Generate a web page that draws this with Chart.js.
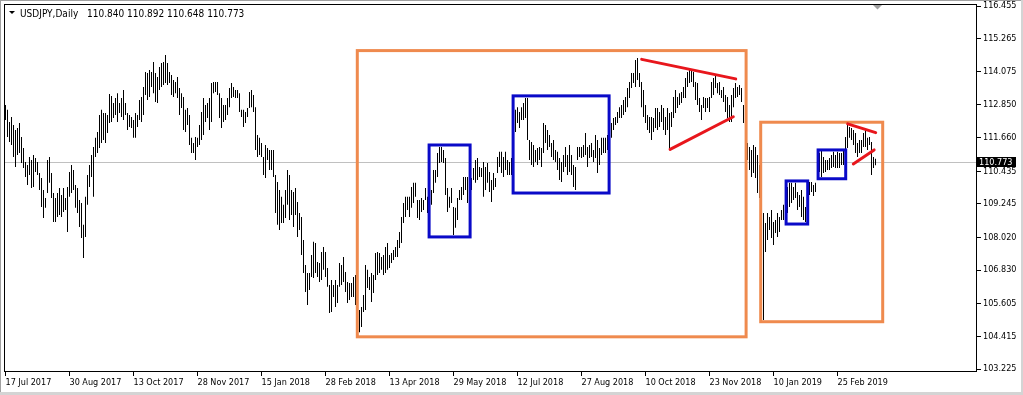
<!DOCTYPE html>
<html>
<head>
<meta charset="utf-8">
<script src="https://cdn.jsdelivr.net/npm/chart.js@4.4.1/dist/chart.umd.min.js"></script>
<style>
html, body { margin: 0; padding: 0; background: #fff; overflow: hidden; }
canvas { display: block; }
</style>
</head>
<body>
<canvas id="mycanvas" width="1023" height="395"></canvas>
<script>
var symbolName = 'USDJPY,Daily';
var lastOHLC = [110.840, 110.892, 110.648, 110.773];

var dateLabels = ['17 Jul 2017', '30 Aug 2017', '13 Oct 2017', '28 Nov 2017', '15 Jan 2018', '28 Feb 2018', '13 Apr 2018',
	'29 May 2018', '12 Jul 2018', '27 Aug 2018', '10 Oct 2018', '23 Nov 2018', '10 Jan 2019', '25 Feb 2019'];
var dateBars = [0, 32, 64, 96, 128, 160, 192, 224, 256, 288, 320, 352, 384, 416];
var priceTicks = [116.455, 115.265, 114.075, 112.850, 111.660, 110.435, 109.245, 108.020, 106.830, 105.605, 104.415, 103.225];

// daily highs, one per bar, 17 Jul 2017 onwards
var highs = [
	112.85,112.67,112.23,112.41,112.12,111.94,112.01,112.19,111.68,111.28,
	110.77,110.66,110.95,110.84,111.03,110.92,110.77,110.37,110.19,109.75,
	109.46,110.84,110.95,110.37,109.64,109.46,109.64,109.82,109.57,109.82,
	109.46,109.86,110.41,110.66,110.48,109.93,109.82,109.39,109.28,108.48,
	109.50,110.30,110.66,111.03,111.32,111.65,111.86,112.48,112.67,112.56,
	112.56,112.48,113.25,113.18,112.92,113.10,113.28,112.92,113.10,113.39,
	112.92,112.56,112.48,112.41,112.30,112.56,112.48,113.03,113.14,113.50,
	114.05,114.01,114.12,114.05,114.41,114.01,113.87,114.23,114.38,114.41,
	114.67,114.38,114.05,113.94,113.76,113.69,113.87,113.47,113.28,113.14,
	112.67,112.74,112.48,111.65,111.46,111.68,111.65,112.12,112.59,113.10,
	112.85,112.92,113.10,113.65,113.69,113.69,113.69,113.28,113.10,112.85,
	112.85,113.10,113.47,113.65,113.50,113.39,113.39,113.28,112.67,112.67,
	112.59,112.74,113.32,113.39,113.21,112.77,111.75,111.65,111.46,110.95,
	111.39,111.28,111.21,111.21,111.21,110.30,110.04,109.75,109.50,109.21,
	109.75,110.48,110.30,109.75,109.68,109.82,109.31,108.91,108.77,107.93,
	107.02,106.73,106.73,107.38,107.86,107.82,107.13,107.09,107.49,107.67,
	107.49,106.91,106.29,106.47,106.29,106.47,106.29,107.09,107.02,107.31,
	106.76,106.40,106.36,106.36,106.58,106.65,106.29,105.38,105.49,105.92,
	107.02,106.84,106.58,106.73,106.65,107.45,107.49,107.45,107.31,107.38,
	107.67,107.82,107.38,107.45,107.56,107.67,107.93,108.22,108.77,109.28,
	109.50,109.50,109.50,109.86,110.01,110.01,109.39,109.39,109.46,109.39,
	109.82,109.50,110.22,109.75,110.48,110.48,111.10,111.32,111.32,111.21,
	110.92,109.82,109.50,109.82,109.13,109.10,109.46,109.75,109.86,110.22,
	110.22,110.22,109.93,110.19,110.55,110.84,110.92,110.59,110.55,110.77,
	110.59,110.73,110.41,110.11,110.37,110.19,110.95,111.14,111.14,110.95,
	111.14,110.84,110.77,110.92,112.19,112.67,112.77,112.59,112.77,112.92,
	113.10,113.10,111.57,111.50,111.39,111.21,111.28,111.32,111.28,112.19,
	112.12,111.94,111.75,111.46,111.57,111.21,111.14,110.92,110.77,111.03,
	111.32,111.03,111.39,111.03,110.66,110.59,111.32,111.32,111.32,111.39,
	111.83,111.32,111.39,111.46,111.21,111.75,111.57,111.28,111.65,111.65,
	111.65,111.75,112.01,112.19,112.37,112.41,112.59,112.77,112.85,113.03,
	113.14,113.47,113.69,114.01,114.01,114.49,114.56,114.01,113.69,113.39,
	112.85,112.48,112.41,112.41,112.37,112.74,112.74,112.59,112.85,112.74,
	112.41,112.74,112.56,112.59,113.14,113.39,113.14,113.28,113.32,113.50,
	113.83,114.05,114.20,114.12,114.05,113.69,113.65,113.10,112.85,113.14,
	113.10,113.10,113.14,113.69,113.83,113.94,113.65,113.69,113.39,113.50,
	113.21,113.14,112.85,113.21,113.47,113.65,113.50,113.58,113.47,112.85,
	112.41,111.46,111.32,111.21,111.39,111.32,111.03,110.66,109.93,108.91,
	108.55,108.91,108.77,109.02,108.58,108.66,108.91,108.77,109.02,109.21,
	109.39,109.86,110.01,110.01,109.86,110.01,109.68,109.57,109.75,109.50,
	109.13,109.75,110.04,110.04,109.93,110.01,111.21,111.10,111.21,110.95,
	110.84,110.84,110.92,111.03,111.14,111.03,111.14,111.10,111.10,111.21,
	111.68,112.12,112.05,112.01,111.94,111.83,111.46,111.57,111.57,111.83,
	111.94,111.65,111.68,111.50,110.95,110.892
];

var lows = [
	112.30,111.68,111.50,111.39,110.95,110.59,111.03,111.10,110.73,110.55,
	110.22,109.93,110.30,109.82,109.86,110.41,110.30,109.75,109.13,108.73,
	109.10,109.64,110.01,109.46,108.58,108.58,108.77,108.84,108.77,108.95,
	109.02,108.22,109.50,109.64,109.75,109.10,108.91,108.40,108.00,107.27,
	108.04,109.21,109.86,110.22,109.50,110.95,111.10,111.28,111.46,111.57,
	111.46,111.83,112.19,112.23,112.37,112.48,112.23,112.56,112.41,112.30,
	112.48,111.94,112.05,112.01,111.65,111.65,112.05,112.30,112.23,112.48,
	113.21,113.03,113.14,113.50,113.28,112.96,112.92,113.39,113.50,113.58,
	113.65,113.58,113.65,113.21,113.14,113.28,113.10,112.48,112.74,111.94,
	111.86,112.12,111.39,111.10,111.10,110.84,111.32,111.39,111.57,111.75,
	112.23,112.37,111.94,112.23,113.28,113.32,113.21,112.37,112.01,112.23,
	112.30,112.48,112.77,113.10,113.14,113.10,113.10,112.59,112.41,112.05,
	112.19,112.41,112.74,112.77,112.59,111.21,110.95,111.03,110.95,110.30,
	110.19,110.84,110.48,110.48,110.22,108.91,108.48,108.29,108.55,108.55,
	108.73,109.21,108.66,108.84,108.40,108.84,108.04,108.29,107.38,106.73,
	106.03,105.56,106.11,106.58,106.54,106.73,106.58,106.40,106.47,106.84,
	106.58,106.22,105.27,105.30,105.85,105.49,105.63,106.22,106.29,106.40,
	106.03,105.63,105.74,105.85,105.85,105.56,105.56,104.57,104.76,105.30,
	105.38,106.18,106.11,105.67,106.00,106.47,106.65,106.73,106.84,106.65,
	106.73,106.84,106.91,107.09,107.20,107.31,107.31,107.64,107.82,108.55,
	108.77,109.02,108.77,109.10,109.28,109.50,108.73,108.66,108.95,109.02,
	109.39,108.91,109.39,109.21,109.64,110.01,110.22,110.73,110.77,110.73,
	109.57,108.95,109.10,109.28,108.11,108.37,108.66,109.39,109.39,109.57,
	109.75,109.28,109.50,109.75,110.11,110.01,110.11,110.22,110.22,109.50,
	109.75,110.01,109.68,109.31,109.75,109.86,110.37,110.59,110.37,110.22,
	110.48,110.30,110.30,110.30,111.21,111.86,112.19,112.01,112.30,112.30,
	112.37,111.57,110.84,110.66,110.59,110.77,110.66,110.84,110.59,111.10,
	111.46,111.21,111.32,110.95,110.84,110.77,110.48,110.11,110.04,110.41,
	110.59,110.30,110.41,110.30,109.86,109.75,110.84,110.95,110.92,110.95,
	111.03,110.59,110.92,110.95,110.77,110.92,110.37,110.66,111.03,111.10,
	111.10,111.21,111.39,111.65,111.94,112.12,112.19,112.37,112.37,112.48,
	112.59,112.77,113.10,113.47,113.65,113.50,113.76,113.50,112.77,112.41,
	112.19,111.94,111.83,111.57,111.86,112.01,111.94,112.05,112.23,111.94,
	111.75,111.94,111.21,112.05,112.37,112.56,112.74,112.85,112.92,113.10,
	113.10,113.50,113.65,113.69,113.50,113.03,112.85,112.59,112.30,112.74,
	112.59,112.74,112.59,113.10,113.21,113.47,113.28,113.21,113.10,112.96,
	112.59,112.37,112.23,112.23,112.77,113.10,113.14,113.21,112.96,112.19,
	110.77,110.84,110.48,110.22,110.37,110.19,109.64,109.46,109.21,105.01,
	107.49,107.93,108.29,108.00,107.75,108.18,108.04,108.22,108.66,108.66,
	108.84,108.91,109.13,109.28,109.39,109.46,109.02,109.13,108.77,108.66,
	108.58,109.21,109.57,109.68,109.53,109.68,110.11,110.41,110.22,110.37,
	110.41,110.48,110.48,110.55,110.59,110.55,110.55,110.55,110.66,110.66,
	111.14,111.28,111.65,111.57,111.39,111.10,110.95,111.10,111.10,111.32,
	111.32,111.21,111.39,110.30,110.55,110.648
];

// drawn objects: [bar from, bar to, price top, price bottom]
var orangeBoxes = [[175.9, 370.3, 114.83, 104.40], [377.6, 438.6, 112.22, 104.95]];
var blueBoxes = [[211.8, 232.3, 111.39, 108.04], [253.8, 301.8, 113.18, 109.64],
	[390.3, 401.1, 110.08, 108.51], [406.3, 420.1, 111.21, 110.16]];
// trend lines: [bar, price, bar, price]
var redLines = [[318.1, 114.51, 365.1, 113.80], [332.3, 111.23, 363.9, 112.42],
	[421.1, 112.16, 435.1, 111.84], [423.9, 110.70, 434.3, 111.21]];

var fontFamily = '"DejaVu Sans Condensed", "Liberation Sans", Arial, sans-serif';

var bars = [];
for (var i in highs) {
	bars.push({x: Number(i), y: [lows[i], highs[i]]});
}

var mt4Decor = {
	id: 'mt4Decor',
	beforeDraw: function(chart) {
		var c = chart.ctx, a = chart.chartArea;
		var py = Math.round(chart.scales.y.getPixelForValue(lastOHLC[3])) + 0.5;
		c.save();
		c.fillStyle = '#ffffff';
		c.fillRect(0, 0, chart.width, chart.height);
		c.strokeStyle = '#c0c0c0';
		c.lineWidth = 1;
		c.beginPath();
		c.moveTo(a.left, py);
		c.lineTo(a.right, py);
		c.stroke();
		c.restore();
	},
	afterDatasetsDraw: function(chart) {
		var c = chart.ctx, xs = chart.scales.x, ys = chart.scales.y;
		c.save();
		c.lineWidth = 3;
		c.lineJoin = 'miter';
		c.strokeStyle = '#ef8a4e';
		orangeBoxes.forEach(function(b) {
			var x1 = xs.getPixelForValue(b[0]), x2 = xs.getPixelForValue(b[1]);
			var y1 = ys.getPixelForValue(b[2]), y2 = ys.getPixelForValue(b[3]);
			c.strokeRect(x1, y1, x2 - x1, y2 - y1);
		});
		c.strokeStyle = '#0a0ac8';
		blueBoxes.forEach(function(b) {
			var x1 = xs.getPixelForValue(b[0]), x2 = xs.getPixelForValue(b[1]);
			var y1 = ys.getPixelForValue(b[2]), y2 = ys.getPixelForValue(b[3]);
			c.strokeRect(x1, y1, x2 - x1, y2 - y1);
		});
		c.strokeStyle = '#e8161c';
		c.lineCap = 'round';
		redLines.forEach(function(l) {
			c.beginPath();
			c.moveTo(xs.getPixelForValue(l[0]), ys.getPixelForValue(l[1]));
			c.lineTo(xs.getPixelForValue(l[2]), ys.getPixelForValue(l[3]));
			c.stroke();
		});
		c.restore();
	},
	afterDraw: function(chart) {
		var c = chart.ctx, a = chart.chartArea, xs = chart.scales.x, ys = chart.scales.y;
		c.save();
		// window edges
		c.fillStyle = '#a0a0a0';
		c.fillRect(0, 0, chart.width, 1);
		c.fillRect(0, 0, 1, chart.height);
		c.fillStyle = '#d4d4d4';
		c.fillRect(0, chart.height - 3, chart.width, 3);
		c.fillRect(chart.width - 2, 0, 2, chart.height);
		// chart frame
		c.strokeStyle = '#000';
		c.lineWidth = 1;
		c.strokeRect(a.left + 0.5, a.top + 0.5, a.right - a.left - 1, a.bottom - a.top - 1);
		// shift marker
		var sx = xs.getPixelForValue(highs.length);
		c.fillStyle = '#a0a0a0';
		c.beginPath();
		c.moveTo(sx - 4.5, a.top + 1);
		c.lineTo(sx + 4.5, a.top + 1);
		c.lineTo(sx, a.top + 5.5);
		c.closePath();
		c.fill();
		// header
		c.fillStyle = '#000';
		c.beginPath();
		c.moveTo(9, 11);
		c.lineTo(15, 11);
		c.lineTo(12, 14);
		c.closePath();
		c.fill();
		c.font = '10px ' + fontFamily;
		c.textBaseline = 'alphabetic';
		c.textAlign = 'left';
		c.fillText(symbolName, 20, 16.5);
		c.fillText(lastOHLC.map(function(v) { return v.toFixed(3); }).join(' '), 87, 16.5);
		// current price label
		var py = Math.round(ys.getPixelForValue(lastOHLC[3]));
		c.font = '9px ' + fontFamily;
		c.fillStyle = '#000';
		c.fillRect(a.right, py - 5, 39, 10);
		c.fillStyle = '#fff';
		c.textBaseline = 'middle';
		c.fillText(lastOHLC[3].toFixed(3), a.right + 2, py + 0.5);
		c.restore();
	}
};

var ctx = document.getElementById('mycanvas');

var barGraph = new Chart(ctx, {
	type: 'bar',
	data: {
		datasets: [{
			label: symbolName,
			data: bars,
			backgroundColor: '#000000',
			borderWidth: 0,
			barThickness: 1,
			inflateAmount: 0,
			grouped: false
		}]
	},
	options: {
		responsive: false,
		animation: false,
		devicePixelRatio: 1,
		events: [],
		layout: {padding: {left: 4, top: 4, right: 0, bottom: 0}},
		plugins: {legend: {display: false}, tooltip: {enabled: false}},
		scales: {
			x: {
				type: 'linear',
				min: -0.75,
				max: 485.75,
				bounds: 'data',
				offset: false,
				afterBuildTicks: function(s) {
					s.ticks = dateBars.map(function(v) { return {value: v}; });
				},
				afterFit: function(s) {
					s.height = 23;
					s.paddingLeft = 0;
					s.paddingRight = 0;
				},
				grid: {offset: false, drawOnChartArea: false, drawTicks: true, tickLength: 4, color: '#000'},
				border: {display: false},
				ticks: {
					autoSkip: false,
					maxRotation: 0,
					align: 'start',
					padding: 1,
					color: '#000',
					font: {family: fontFamily, size: 9},
					callback: function(v) {
						var k = dateBars.indexOf(v);
						return k < 0 ? '' : dateLabels[k];
					}
				}
			},
			y: {
				position: 'right',
				min: 103.118,
				max: 116.528,
				bounds: 'data',
				beginAtZero: false,
				afterBuildTicks: function(s) {
					s.ticks = priceTicks.map(function(v) { return {value: v}; });
				},
				afterFit: function(s) {
					s.width = 46;
					s.paddingTop = 0;
					s.paddingBottom = 0;
				},
				grid: {drawOnChartArea: false, drawTicks: true, tickLength: 4, color: '#000'},
				border: {display: false},
				ticks: {
					autoSkip: false,
					padding: 2,
					color: '#000',
					font: {family: fontFamily, size: 9},
					callback: function(v) { return v.toFixed(3); }
				}
			}
		}
	},
	plugins: [mt4Decor]
});
</script>
</body>
</html>
